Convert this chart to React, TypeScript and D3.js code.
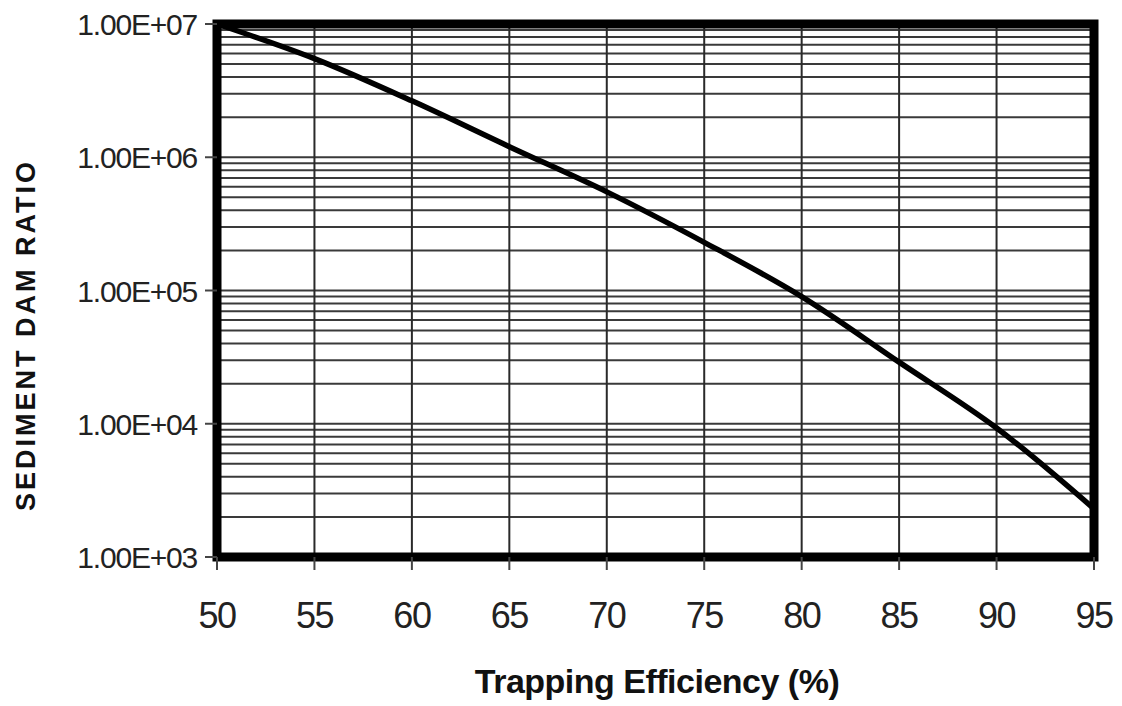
import * as d3 from "d3";
import React, { useEffect, useRef } from "react";

// Trapping efficiency (%) vs sediment dam ratio
const trapEff = [50, 55, 60, 65, 70, 75, 80, 85, 90, 95];
const damRatio = [1.0e7, 5.5e6, 2.65e6, 1.2e6, 5.5e5, 2.3e5, 9.0e4, 2.9e4, 9.3e3, 2.3e3];

const xTicks = [50, 55, 60, 65, 70, 75, 80, 85, 90, 95];
const yTicks = [1e3, 1e4, 1e5, 1e6, 1e7];
const yTickLabels = ["1.00E+03", "1.00E+04", "1.00E+05", "1.00E+06", "1.00E+07"];

const App = () => {
  const svgRef = useRef<SVGSVGElement>(null);

  useEffect(() => {
    const svg = d3.select(svgRef.current);
    svg.selectAll("*").remove();

    const left = 217;
    const right = 1094;
    const top = 24;
    const bottom = 557;

    const x = d3.scaleLinear().domain([50, 95]).range([left, right]);
    const y = d3.scaleLog().domain([1e3, 1e7]).range([bottom, top]);

    const font = "'Liberation Sans', Arial, sans-serif";

    // minor + major horizontal gridlines
    const gridY: number[] = [];
    for (let e = 3; e < 7; e++) {
      for (let m = 1; m < 10; m++) gridY.push(m * Math.pow(10, e));
    }
    gridY.push(1e7);

    const grid = svg.append("g");
    grid
      .selectAll("line.h")
      .data(gridY)
      .join("line")
      .attr("x1", left)
      .attr("x2", right)
      .attr("y1", (d) => y(d))
      .attr("y2", (d) => y(d))
      .attr("stroke", "#3a3a3a")
      .attr("stroke-width", 2);

    grid
      .selectAll("line.v")
      .data(xTicks)
      .join("line")
      .attr("x1", (d) => x(d))
      .attr("x2", (d) => x(d))
      .attr("y1", top)
      .attr("y2", bottom)
      .attr("stroke", "#2a2a2a")
      .attr("stroke-width", 2);

    // curve
    const pts = trapEff.map((t, i) => [t, damRatio[i]] as [number, number]);
    const line = d3
      .line<[number, number]>()
      .x((d) => x(d[0]))
      .y((d) => y(d[1]))
      .curve(d3.curveCatmullRom.alpha(0.5));

    svg
      .append("path")
      .datum(pts)
      .attr("fill", "none")
      .attr("stroke", "#000")
      .attr("stroke-width", 5.5)
      .attr("d", line);

    // frame
    svg
      .append("rect")
      .attr("x", left)
      .attr("y", top)
      .attr("width", right - left)
      .attr("height", bottom - top)
      .attr("fill", "none")
      .attr("stroke", "#000")
      .attr("stroke-width", 9);

    // y axis ticks + labels
    const yAxis = svg.append("g");
    yAxis
      .selectAll("line")
      .data(yTicks)
      .join("line")
      .attr("x1", left - 12)
      .attr("x2", left)
      .attr("y1", (d) => y(d))
      .attr("y2", (d) => y(d))
      .attr("stroke", "#444")
      .attr("stroke-width", 2);
    yAxis
      .selectAll("text")
      .data(yTicks)
      .join("text")
      .attr("x", 197)
      .attr("y", (d) => y(d) + 11)
      .attr("text-anchor", "end")
      .attr("font-family", font)
      .attr("font-size", 30)
      .attr("letter-spacing", -1.2)
      .attr("fill", "#222")
      .text((d, i) => yTickLabels[i]);

    // x axis ticks + labels
    const xAxis = svg.append("g");
    xAxis
      .selectAll("line")
      .data(xTicks)
      .join("line")
      .attr("x1", (d) => x(d))
      .attr("x2", (d) => x(d))
      .attr("y1", bottom)
      .attr("y2", bottom + 13)
      .attr("stroke", "#444")
      .attr("stroke-width", 2);
    xAxis
      .selectAll("text")
      .data(xTicks)
      .join("text")
      .attr("x", (d) => x(d))
      .attr("y", 628)
      .attr("text-anchor", "middle")
      .attr("font-family", font)
      .attr("font-size", 36)
      .attr("letter-spacing", -1.5)
      .attr("fill", "#222")
      .text((d) => d);

    // axis titles
    svg
      .append("text")
      .attr("x", 657)
      .attr("y", 693)
      .attr("text-anchor", "middle")
      .attr("font-family", font)
      .attr("font-weight", "bold")
      .attr("font-size", 34)
      .attr("letter-spacing", -0.5)
      .attr("fill", "#111")
      .text("Trapping Efficiency (%)");

    svg
      .append("text")
      .attr("transform", "translate(35,335) rotate(-90)")
      .attr("text-anchor", "middle")
      .attr("font-family", font)
      .attr("font-weight", "bold")
      .attr("font-size", 27)
      .attr("letter-spacing", 3)
      .attr("fill", "#111")
      .text("SEDIMENT DAM RATIO");
  }, []);

  return (
    <svg
      ref={svgRef}
      width={1122}
      height={706}
      style={{ position: "absolute", left: 0, top: 0, background: "#fff" }}
    />
  );
};

export default App;
